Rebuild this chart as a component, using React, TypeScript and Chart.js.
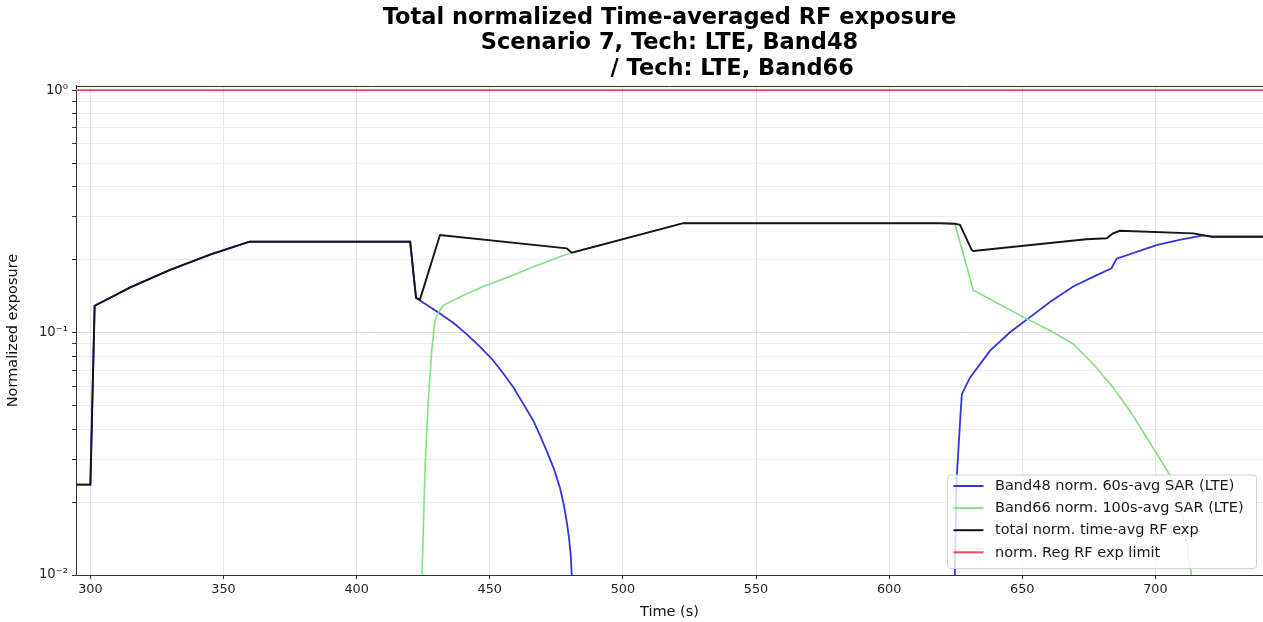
import React, { useEffect, useRef } from 'react';
import { Chart, registerables } from 'chart.js';

Chart.register(...registerables);

const FONT = '"DejaVu Sans", "Liberation Sans", sans-serif';

// ---------- text ----------
const titleLines = [
  'Total normalized Time-averaged RF exposure',
  'Scenario 7, Tech: LTE, Band48',
  '                / Tech: LTE, Band66',
];
const xAxisTitle = 'Time (s)';
const yAxisTitle = 'Normalized exposure';
const seriesLabels = [
  'Band48 norm. 60s-avg SAR (LTE)',
  'Band66 norm. 100s-avg SAR (LTE)',
  'total norm. time-avg RF exp',
  'norm. Reg RF exp limit',
];
const seriesColors = ['#3434dc', '#82e082', '#151515', '#f0485a'];
const seriesWidths = [1.8, 1.6, 1.9, 1.9];

// ---------- axes ----------
const xMin = 294.6;
const xMax = 740.4;
const yMin = 0.01;
const yMax = 1.04;
const xTicks = [300, 350, 400, 450, 500, 550, 600, 650, 700];
const yMajorTicks = [0.01, 0.1, 1];
const yMajorLabels = ['10\u207B\u00B2', '10\u207B\u00B9', '10\u2070'];
const yMinorTicks = [0.02, 0.03, 0.04, 0.05, 0.06, 0.07, 0.08, 0.09, 0.2, 0.3, 0.4, 0.5, 0.6, 0.7, 0.8, 0.9];

// ---------- data ----------
const band48Time = [294.6, 300.0, 301.6, 315.2, 329.7, 345.2, 359.8, 420.1, 422.3, 423.8, 430.7, 436.3, 441.3, 446.3, 451.3, 455.1, 458.9, 462.6, 466.4, 468.9, 471.4, 474.1, 476.4, 477.8, 478.9, 479.8, 480.4, 481.0, 550.0, 624.6, 625.3, 626.9, 627.3, 630.4, 637.9, 645.4, 652.9, 660.4, 669.1, 676.6, 683.5, 685.4, 700.4, 709.0, 717.9, 721.3, 740.4];
const band48Value = [0.0236, 0.0236, 0.129, 0.154, 0.181, 0.21, 0.237, 0.237, 0.139, 0.1355, 0.121, 0.1098, 0.0985, 0.0875, 0.0767, 0.0678, 0.0593, 0.0508, 0.0432, 0.0376, 0.0324, 0.0274, 0.0228, 0.0195, 0.0166, 0.0141, 0.0121, 0.009, null, 0.009, 0.0245, 0.048, 0.0557, 0.0653, 0.0842, 0.1003, 0.1158, 0.1337, 0.1548, 0.1696, 0.1842, 0.2018, 0.2295, 0.241, 0.2515, 0.2485, 0.2485];

const band66Time = [424.4, 425.0, 425.7, 426.9, 428.2, 429.4, 430.7, 432.6, 440.1, 447.6, 457.0, 466.4, 478.9, 480.8, 522.7, 619.1, 624.7, 631.6, 650.4, 660.0, 669.1, 676.6, 684.1, 690.5, 696.7, 701.0, 705.4, 710.0, 714.2];
const band66Value = [0.009, 0.0146, 0.0276, 0.0522, 0.0842, 0.112, 0.121, 0.1295, 0.1426, 0.1548, 0.1696, 0.187, 0.2105, 0.2134, 0.2825, 0.2825, 0.281, 0.1496, 0.1158, 0.1025, 0.0898, 0.0742, 0.0593, 0.0474, 0.0369, 0.031, 0.0259, 0.018, 0.009];

const totalTime = [294.6, 300.0, 301.6, 315.2, 329.7, 345.2, 359.8, 420.1, 422.3, 423.8, 431.3, 478.9, 480.8, 522.7, 619.1, 624.7, 626.6, 631.0, 631.6, 674.0, 681.7, 684.1, 686.6, 714.2, 719.2, 721.3, 740.4];
const totalValue = [0.0236, 0.0236, 0.129, 0.154, 0.181, 0.21, 0.237, 0.237, 0.139, 0.137, 0.2526, 0.2226, 0.2134, 0.2825, 0.2825, 0.281, 0.278, 0.2192, 0.217, 0.2427, 0.2448, 0.2565, 0.2628, 0.2565, 0.2504, 0.2485, 0.2485];

const limitTime = [294.6, 740.4];
const limitValue = [1, 1];

const toPoints = (t: number[], v: (number | null)[]) => t.map((x, i) => ({ x, y: v[i] }));

const isMajor = (v: number) => {
  if (!(v > 0)) return false;
  const l = Math.log10(v);
  return Math.abs(l - Math.round(l)) < 1e-6;
};

const topSpinePlugin = {
  id: 'topSpine',
  afterDatasetsDraw(chart: any) {
    const { ctx, chartArea } = chart;
    ctx.save();
    ctx.strokeStyle = '#333333';
    ctx.lineWidth = 1;
    ctx.beginPath();
    ctx.moveTo(chartArea.left, chartArea.top + 0.5);
    ctx.lineTo(chartArea.right, chartArea.top + 0.5);
    ctx.stroke();
    ctx.restore();
  },
};

const boxLegendPlugin = {
  id: 'boxLegend',
  afterDraw(chart: any) {
    const { ctx, chartArea } = chart;
    const right = chartArea.right - 6.5;
    const bottom = chartArea.bottom - 6.5;
    const w = 309;
    const h = 93.5;
    const left = right - w;
    const top = bottom - h;
    const r = 3;
    ctx.save();
    ctx.beginPath();
    ctx.moveTo(left + r, top);
    ctx.lineTo(right - r, top);
    ctx.quadraticCurveTo(right, top, right, top + r);
    ctx.lineTo(right, bottom - r);
    ctx.quadraticCurveTo(right, bottom, right - r, bottom);
    ctx.lineTo(left + r, bottom);
    ctx.quadraticCurveTo(left, bottom, left, bottom - r);
    ctx.lineTo(left, top + r);
    ctx.quadraticCurveTo(left, top, left + r, top);
    ctx.closePath();
    ctx.fillStyle = 'rgba(255,255,255,0.8)';
    ctx.fill();
    ctx.strokeStyle = '#d0d0d0';
    ctx.lineWidth = 1;
    ctx.stroke();
    ctx.font = `14.5px ${FONT}`;
    ctx.textBaseline = 'middle';
    ctx.textAlign = 'left';
    chart.data.datasets.forEach((ds: any, i: number) => {
      const y = top + 11 + i * 22.1;
      ctx.strokeStyle = ds.borderColor;
      ctx.lineWidth = 2;
      ctx.beginPath();
      ctx.moveTo(left + 6, y);
      ctx.lineTo(left + 36, y);
      ctx.stroke();
      ctx.fillStyle = '#1a1a1a';
      ctx.fillText(ds.label, left + 47.5, y + 0.5);
    });
    ctx.restore();
  },
};

export default function App() {
  const canvasRef = useRef<HTMLCanvasElement | null>(null);

  useEffect(() => {
    const canvas = canvasRef.current;
    if (!canvas) return;
    const seriesData = [
      toPoints(band48Time, band48Value),
      toPoints(band66Time, band66Value),
      toPoints(totalTime, totalValue),
      toPoints(limitTime, limitValue),
    ];
    const chart = new Chart(canvas, {
      type: 'line',
      data: {
        datasets: seriesData.map((d, i) => ({
          label: seriesLabels[i],
          data: d,
          borderColor: seriesColors[i],
          backgroundColor: seriesColors[i],
          borderWidth: seriesWidths[i],
          pointRadius: 0,
          pointHoverRadius: 0,
          fill: false,
          tension: 0,
          spanGaps: false,
          order: 4 - i,
        })),
      },
      options: {
        responsive: false,
        animation: false,
        devicePixelRatio: 1,
        layout: { padding: { left: 0, right: 0, top: 0, bottom: 0 } },
        plugins: {
          legend: { display: false },
          tooltip: { enabled: false },
          title: {
            display: true,
            text: titleLines,
            fullSize: false,
            color: '#000000',
            font: { family: FONT, size: 22.5, weight: 'bold', lineHeight: 1.133 },
            padding: { top: 5.2, bottom: 4.3 },
          },
        },
        scales: {
          x: {
            type: 'linear',
            min: xMin,
            max: xMax,
            afterBuildTicks: (s: any) => {
              s.ticks = xTicks.map((v) => ({ value: v }));
            },
            afterFit: (s: any) => {
              s.height = 47;
            },
            ticks: {
              autoSkip: false,
              maxRotation: 0,
              color: '#222222',
              padding: 3,
              font: { family: FONT, size: 12.8 },
              callback: (v: any) => String(v),
            },
            grid: {
              color: '#e6e6e6',
              lineWidth: 1,
              drawTicks: true,
              tickLength: 4,
              tickColor: '#333333',
            },
            border: { display: true, color: '#333333', width: 1 },
            title: {
              display: true,
              text: xAxisTitle,
              color: '#111111',
              font: { family: FONT, size: 14.5 },
              padding: { top: 0, bottom: 1.5 },
            },
          },
          y: {
            type: 'logarithmic',
            min: yMin,
            max: yMax,
            afterBuildTicks: (s: any) => {
              const all = [...yMajorTicks, ...yMinorTicks].sort((a, b) => a - b);
              s.ticks = all.map((v) => ({ value: v, major: isMajor(v) }));
            },
            afterFit: (s: any) => {
              s.width = 76;
            },
            ticks: {
              autoSkip: false,
              color: '#222222',
              padding: 4,
              font: { family: FONT, size: 13.2 },
              callback: (v: any) => {
                const idx = yMajorTicks.findIndex((m) => Math.abs(m - Number(v)) < 1e-9);
                return idx >= 0 ? yMajorLabels[idx] : '';
              },
            },
            grid: {
              color: (c: any) => (c.tick && isMajor(c.tick.value) ? '#dadada' : '#ececec'),
              lineWidth: 1,
              drawTicks: true,
              tickLength: 4,
              tickColor: '#333333',
            },
            border: { display: true, color: '#333333', width: 1 },
            title: {
              display: true,
              text: yAxisTitle,
              color: '#111111',
              font: { family: FONT, size: 14.5 },
              padding: { top: 5, bottom: 0 },
            },
          },
        },
      },
      plugins: [topSpinePlugin, boxLegendPlugin],
    } as any);
    return () => chart.destroy();
  }, []);

  return (
    <div style={{ position: 'absolute', left: 0, top: 0, width: 1263, height: 622, background: '#ffffff' }}>
      <canvas ref={canvasRef} width={1263} height={622} style={{ display: 'block' }} />
    </div>
  );
}
